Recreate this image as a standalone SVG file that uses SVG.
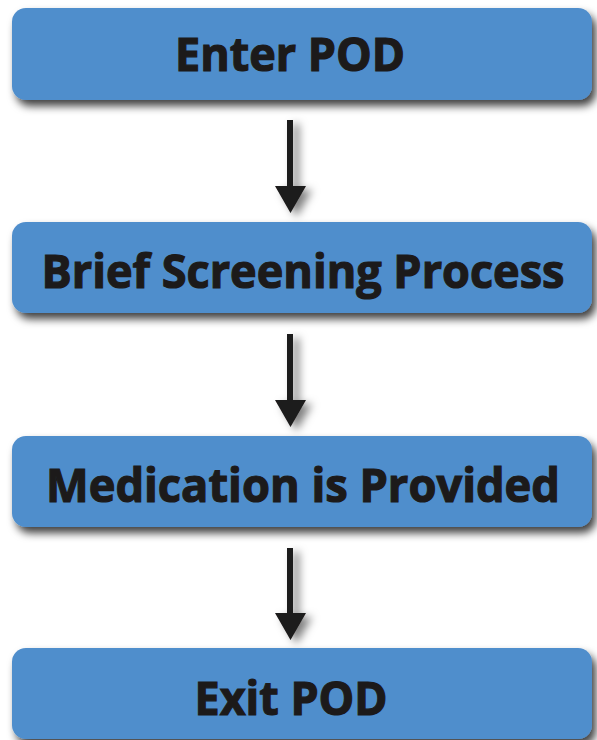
<svg xmlns="http://www.w3.org/2000/svg" width="597" height="740" viewBox="0 0 597 740">
  <defs>
    <filter id="boxShadow" x="-5%" y="-20%" width="112%" height="150%">
      <feDropShadow dx="4" dy="6" stdDeviation="4" flood-color="#000" flood-opacity="0.75"/>
    </filter>
    <filter id="arrowShadow" x="-50%" y="-20%" width="250%" height="150%">
      <feDropShadow dx="6" dy="4" stdDeviation="4" flood-color="#000" flood-opacity="0.5"/>
    </filter>
  </defs>
  <style>
    .box { fill: #508ecc; filter: url(#boxShadow); }
    .label { font-family: "Open Sans", "Noto Sans", "DejaVu Sans", sans-serif; font-weight: 700; font-size: 47px; fill: #1c1a1a; stroke: #1c1a1a; stroke-width: 1.2px; text-anchor: middle; }
    .arrow path { fill: #1c1a1a; }
  </style>
  <rect width="597" height="740" fill="#ffffff"/>

  <!-- connectors: shaft plus triangular head, drawn as one outline -->
  <g id="connectors" filter="url(#arrowShadow)">
    <g class="arrow">
      <path d="M287 120 H293 V186 H306 L290.5 213 L275 186 H287 Z"/>
      <path d="M287 334 H293 V400 H306 L290.5 427 L275 400 H287 Z"/>
      <path d="M287 548 H293 V613 H306 L290.5 640 L275 613 H287 Z"/>
    </g>
  </g>

  <g id="enter-pod">
    <rect class="box" x="12" y="8" width="580" height="92" rx="14"/>
    <text class="label" x="290" y="71" textLength="230" lengthAdjust="spacingAndGlyphs">Enter POD</text>
  </g>

  <g id="brief-screening">
    <rect class="box" x="12" y="222" width="580" height="91" rx="14"/>
    <text class="label" x="303" y="288" textLength="523" lengthAdjust="spacingAndGlyphs">Brief Screening Process</text>
  </g>

  <g id="medication-provided">
    <rect class="box" x="12" y="436" width="580" height="91" rx="14"/>
    <text class="label" x="303" y="502" textLength="514" lengthAdjust="spacingAndGlyphs">Medication is Provided</text>
  </g>

  <g id="exit-pod">
    <rect class="box" x="12" y="648" width="580" height="91" rx="14"/>
    <text class="label" x="291" y="715" textLength="193" lengthAdjust="spacingAndGlyphs">Exit POD</text>
  </g>
</svg>
